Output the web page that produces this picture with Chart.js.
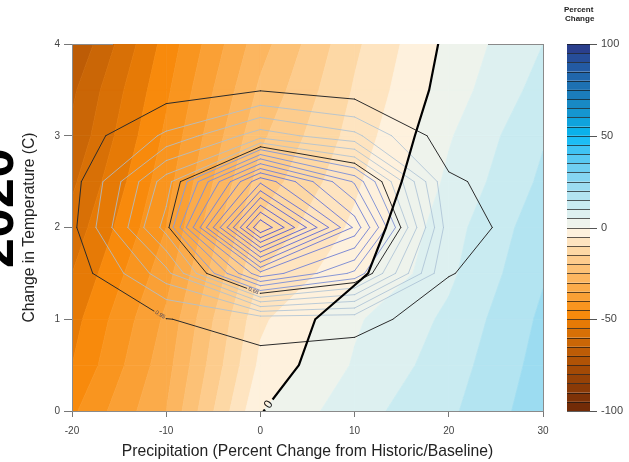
<!DOCTYPE html>
<html>
<head>
<meta charset="utf-8">
<script src="https://cdn.jsdelivr.net/npm/chart.js@4.4.0/dist/chart.umd.min.js"></script>
<style>
  html, body { margin: 0; padding: 0; background: #ffffff; }
  canvas { display: block; }
</style>
</head>
<body>
<canvas id="chart" width="629" height="462"></canvas>
<script>
// Grid of the response surface
const precipitation = [-20, -10, 0, 10, 20, 30];            // % change from baseline
const temperature = [0, 0.5, 1, 1.5, 2, 2.5, 3, 3.5, 4];     // degrees C

// Percent change of the response (one row per temperature step)
const percentChange = [
  [-46, -30,  -0.3,   8.0, 14.0, 23.0],
  [-50, -32,  -3.8,   5.5, 12.5, 22.0],
  [-52, -34,  -6.0,   4.3, 11.0, 21.0],
  [-55, -37, -10.0,  -1.5,  9.0, 19.5],
  [-58, -40, -14.0,  -4.0,  8.0, 18.0],
  [-61, -42, -18.0,  -6.0,  6.0, 16.0],
  [-64, -44, -21.0,  -8.0,  4.5, 14.5],
  [-66, -46, -24.0,  -9.5,  2.5, 12.0],
  [-70, -48, -27.0, -11.0,  1.4, 10.0]
];

// Relative likelihood of the climate projections (one row per temperature step)
const likelihood = [
  [0,     0,     0.003, 0,     0,     0],
  [0,     0.003, 0.020, 0,     0,     0],
  [0,     0.038, 0.067, 0.066, 0.002, 0],
  [0,     0.182, 0.550, 0.409, 0.043, 0],
  [0.025, 0.320, 1.000, 0.600, 0.070, 0.005],
  [0.014, 0.276, 0.700, 0.458, 0.050, 0],
  [0.001, 0.110, 0.226, 0.163, 0.003, 0],
  [0,     0.010, 0.036, 0.009, 0,     0],
  [0,     0.005, 0.008, 0,     0,     0]
];

// Likelihood contour levels
const innerLevels = [0.95, 0.90, 0.855, 0.805, 0.76, 0.71, 0.66, 0.61, 0.565, 0.515, 0.465, 0.42, 0.37];
const level68 = 0.34;
const outerLevels = [0.30, 0.25, 0.20, 0.15, 0.10];
const level95 = 0.04;
const zeroLevel = 0;

// Axis ticks
const precipTicks = [-20, -10, 0, 10, 20, 30];
const tempTicks = [0, 1, 2, 3, 4];
const colorbarTicks = [-100, -50, 0, 50, 100];

// Filled bands of percent change, -100 .. 100 in steps of 5
const bandEdges = [];
for (let v = -100; v <= 100; v += 5) bandEdges.push(v);
const bandColors = [
  '#722b07', '#7e3207', '#8a3a07', '#964207', '#a34a06', '#b05306', '#bd5c06', '#ca6606', '#d87006', '#e67a06',
  '#f88a0c', '#f9951f', '#faa035', '#fbab4a', '#fcb660', '#fcc176', '#fdcc8d', '#fdd8a5', '#fee4c0', '#fef1dd',
  '#eef3ec', '#ddf0f0', '#c9ebf1', '#b3e4f1', '#9cdcf1', '#85d5f1', '#6fcff2', '#58c9f3', '#3fc3f4', '#1cbdf5',
  '#0ab1ea', '#0fa3dd', '#1596d0', '#1889c4', '#1b7dba', '#1d71b2', '#2066ab', '#235aa3', '#264d99', '#2a3f8d'
];

const FONT = '"Liberation Sans", Arial, Helvetica, sans-serif';

// Corners of one grid cell, ordered around its perimeter
function cellCorners(grid, i, j) {
  return [
    { x: precipitation[i],     y: temperature[j],     v: grid[j][i] },
    { x: precipitation[i + 1], y: temperature[j],     v: grid[j][i + 1] },
    { x: precipitation[i + 1], y: temperature[j + 1], v: grid[j + 1][i + 1] },
    { x: precipitation[i],     y: temperature[j + 1], v: grid[j + 1][i] }
  ];
}

// Polygon of the part of a cell whose value lies between lo and hi
function bandPolygon(c, lo, hi) {
  const pts = [];
  for (let e = 0; e < 4; e++) {
    const a = c[e], b = c[(e + 1) % 4];
    if (a.v >= lo && a.v <= hi) pts.push(a);
    const cuts = [];
    for (const lv of [lo, hi]) {
      if ((a.v < lv && b.v > lv) || (a.v > lv && b.v < lv)) {
        const t = (lv - a.v) / (b.v - a.v);
        cuts.push({ t, x: a.x + t * (b.x - a.x), y: a.y + t * (b.y - a.y) });
      }
    }
    cuts.sort((p, q) => p.t - q.t).forEach(p => pts.push(p));
  }
  return pts;
}

// Marching squares: line segments of one level
function contourSegments(grid, level) {
  const segs = [];
  for (let j = 0; j < temperature.length - 1; j++) {
    for (let i = 0; i < precipitation.length - 1; i++) {
      const c = cellCorners(grid, i, j);
      const pts = [];
      for (let e = 0; e < 4; e++) {
        const a = c[e], b = c[(e + 1) % 4];
        if ((a.v < level) !== (b.v < level)) {
          const t = (level - a.v) / (b.v - a.v);
          pts[e] = { x: a.x + t * (b.x - a.x), y: a.y + t * (b.y - a.y) };
        }
      }
      const found = pts.filter(Boolean);
      if (found.length === 2) {
        segs.push(found);
      } else if (found.length === 4) {
        const centre = (c[0].v + c[1].v + c[2].v + c[3].v) / 4;
        if ((c[0].v < level) === (centre < level)) {
          segs.push([pts[0], pts[1]], [pts[2], pts[3]]);
        } else {
          segs.push([pts[3], pts[0]], [pts[1], pts[2]]);
        }
      }
    }
  }
  return segs;
}

// Contour labels, anchored where the line meets a given precipitation or temperature
const contourLabels = [
  { grid: 'percent', level: zeroLevel, text: '0', at: { y: 0.07 }, font: '12px ' + FONT, color: '#111111' },
  { grid: 'likelihood', level: level68, text: '0.68', at: { x: -0.74 }, font: '5.5px ' + FONT, color: '#3d3d5c' },
  { grid: 'likelihood', level: level95, text: '0.95', at: { x: -10.65 }, font: '5.5px ' + FONT, color: '#3d3d5c' }
];

function toPx(scales, p) {
  return { x: scales.x.getPixelForValue(p.x), y: scales.y.getPixelForValue(p.y) };
}

function labelPlacement(ctx, scales, segs, label) {
  let best = null;
  for (const [p, q] of segs) {
    const key = label.at.x !== undefined ? 'x' : 'y';
    const val = label.at[key];
    const lo = Math.min(p[key], q[key]), hi = Math.max(p[key], q[key]);
    if (val < lo || val > hi || hi === lo) continue;
    const t = (val - p[key]) / (q[key] - p[key]);
    const pt = { x: p.x + t * (q.x - p.x), y: p.y + t * (q.y - p.y) };
    const px = toPx(scales, pt);
    if (!best || px.y > best.cy) {
      const a = toPx(scales, p), b = toPx(scales, q);
      let ang = Math.atan2(b.y - a.y, b.x - a.x);
      if (ang > Math.PI / 2) ang -= Math.PI;
      if (ang < -Math.PI / 2) ang += Math.PI;
      best = { cx: px.x, cy: px.y, ang };
    }
  }
  if (!best) return null;
  ctx.save();
  ctx.font = label.font;
  const w = ctx.measureText(label.text).width;
  ctx.restore();
  const size = parseFloat(label.font);
  best.w = w + size * 0.5;
  best.h = size * 1.1;
  return best;
}

function strokeSegments(ctx, scales, segs, color, width) {
  ctx.strokeStyle = color;
  ctx.lineWidth = width;
  ctx.lineCap = 'round';
  ctx.lineJoin = 'round';
  ctx.beginPath();
  for (const [p, q] of segs) {
    const a = toPx(scales, p), b = toPx(scales, q);
    ctx.moveTo(a.x, a.y);
    ctx.lineTo(b.x, b.y);
  }
  ctx.stroke();
}

function clipAround(ctx, area, gap) {
  ctx.beginPath();
  ctx.rect(area.left, area.top, area.width, area.height);
  if (gap) {
    const cos = Math.cos(gap.ang), sin = Math.sin(gap.ang);
    const pts = [[-gap.w / 2, -gap.h / 2], [gap.w / 2, -gap.h / 2], [gap.w / 2, gap.h / 2], [-gap.w / 2, gap.h / 2]]
      .map(([u, v]) => [gap.cx + u * cos - v * sin, gap.cy + u * sin + v * cos]);
    ctx.moveTo(pts[0][0], pts[0][1]);
    for (let k = 1; k < 4; k++) ctx.lineTo(pts[k][0], pts[k][1]);
    ctx.closePath();
  }
  ctx.clip('evenodd');
}

function mix(a, b, t) {
  return 'rgb(' + a.map((v, k) => Math.round(v + (b[k] - v) * t)).join(',') + ')';
}

const surfacePlugin = {
  id: 'surface',
  beforeDatasetsDraw(chart) {
    const { ctx, chartArea: area, scales } = chart;
    ctx.save();
    ctx.beginPath();
    ctx.rect(area.left, area.top, area.width, area.height);
    ctx.clip();

    // filled percent-change bands
    for (let j = 0; j < temperature.length - 1; j++) {
      for (let i = 0; i < precipitation.length - 1; i++) {
        const c = cellCorners(percentChange, i, j);
        const vals = c.map(p => p.v);
        const vmin = Math.min(...vals), vmax = Math.max(...vals);
        for (let k = 0; k < bandColors.length; k++) {
          const lo = bandEdges[k], hi = bandEdges[k + 1];
          if (vmax < lo || vmin > hi) continue;
          const poly = bandPolygon(c, lo, hi);
          if (poly.length < 3) continue;
          ctx.beginPath();
          poly.forEach((p, n) => {
            const q = toPx(scales, p);
            if (n) ctx.lineTo(q.x, q.y); else ctx.moveTo(q.x, q.y);
          });
          ctx.closePath();
          ctx.fillStyle = bandColors[k];
          ctx.fill();
          ctx.strokeStyle = bandColors[k];
          ctx.lineWidth = 0.7;
          ctx.stroke();
        }
      }
    }
    ctx.restore();

    // likelihood contours
    contourLabels.forEach(l => {
      const grid = l.grid === 'percent' ? percentChange : likelihood;
      l.segs = contourSegments(grid, l.level);
      l.place = labelPlacement(ctx, scales, l.segs, l);
    });
    const labelFor = (grid, level) => contourLabels.find(l => l.grid === grid && l.level === level);

    ctx.save();
    clipAround(ctx, area, null);
    outerLevels.forEach(lv => {
      strokeSegments(ctx, scales, contourSegments(likelihood, lv), 'rgba(170,192,212,0.8)', 1);
    });
    innerLevels.forEach((lv, k) => {
      const t = k / (innerLevels.length - 1);
      strokeSegments(ctx, scales, contourSegments(likelihood, lv), mix([92, 92, 210], [140, 156, 214], t), 1);
    });
    ctx.restore();

    [level68, level95].forEach(lv => {
      const l = labelFor('likelihood', lv);
      ctx.save();
      clipAround(ctx, area, l.place);
      strokeSegments(ctx, scales, l.segs, '#2b2b2b', 1);
      ctx.restore();
    });

    const z = labelFor('percent', zeroLevel);
    ctx.save();
    clipAround(ctx, area, z.place);
    strokeSegments(ctx, scales, z.segs, '#000000', 2.2);
    ctx.restore();

    // labels on the lines
    contourLabels.forEach(l => {
      if (!l.place) return;
      ctx.save();
      ctx.translate(l.place.cx, l.place.cy);
      ctx.rotate(l.place.ang);
      ctx.font = l.font;
      ctx.fillStyle = l.color;
      ctx.textAlign = 'center';
      ctx.textBaseline = 'middle';
      ctx.fillText(l.text, 0, 0);
      ctx.restore();
    });
  },
  afterDatasetsDraw(chart) {
    const { ctx, chartArea: area, scales } = chart;
    // frame
    ctx.save();
    ctx.strokeStyle = '#8a8a8a';
    ctx.lineWidth = 1;
    ctx.beginPath();
    ctx.moveTo(area.left + 0.5, area.top);
    ctx.lineTo(area.left + 0.5, area.bottom + 0.5);
    ctx.lineTo(area.right + 0.5, area.bottom + 0.5);
    ctx.lineTo(area.right + 0.5, area.top);
    ctx.moveTo(area.left, area.top + 0.5);
    ctx.lineTo(area.left + 41, area.top + 0.5);
    ctx.moveTo(area.right - 55, area.top + 0.5);
    ctx.lineTo(area.right + 0.5, area.top + 0.5);
    ctx.stroke();
    ctx.restore();

    // colour bar
    const cb = scales.cb;
    const left = area.right + 24, width = 23;
    ctx.save();
    for (let k = 0; k < bandColors.length; k++) {
      const y1 = cb.getPixelForValue(bandEdges[k]);
      const y2 = cb.getPixelForValue(bandEdges[k + 1]);
      ctx.fillStyle = bandColors[k];
      ctx.fillRect(left, y2, width, y1 - y2);
    }
    ctx.strokeStyle = 'rgba(20,20,20,0.85)';
    ctx.lineWidth = 0.8;
    ctx.beginPath();
    bandEdges.forEach(v => {
      const y = Math.round(cb.getPixelForValue(v)) + 0.5;
      ctx.moveTo(left, y);
      ctx.lineTo(left + width, y);
    });
    ctx.stroke();
    ctx.strokeStyle = '#555555';
    ctx.lineWidth = 1;
    ctx.beginPath();
    colorbarTicks.forEach(v => {
      const y = Math.round(cb.getPixelForValue(v)) + 0.5;
      ctx.moveTo(left + width, y);
      ctx.lineTo(left + width + 7, y);
    });
    ctx.stroke();

    ctx.fillStyle = '#222222';
    ctx.font = 'bold 8px ' + FONT;
    ctx.textAlign = 'left';
    ctx.textBaseline = 'middle';
    ctx.fillText('Percent', left - 3, 10);
    ctx.fillText('Change', left - 2, 19);

    // large year caption running up the left margin
    ctx.translate(13, 208);
    ctx.rotate(-Math.PI / 2);
    ctx.font = 'bold 54px ' + FONT;
    ctx.fillStyle = '#000000';
    ctx.textAlign = 'center';
    ctx.textBaseline = 'alphabetic';
    ctx.fillText('2020', 0, 0);
    ctx.restore();
  }
};

Chart.defaults.font.family = FONT;

// fixed axis boxes so the plot area sits at 72..543 x 44..411
const fixBox = size => s => {
  if (s.isHorizontal()) s.height = size; else s.width = size;
  s.paddingTop = 0; s.paddingBottom = 0; s.paddingLeft = 0; s.paddingRight = 0;
};

new Chart(document.getElementById('chart'), {
  type: 'scatter',
  data: { datasets: [] },
  options: {
    responsive: false,
    animation: false,
    devicePixelRatio: 1,
    layout: { padding: { top: 44, left: 0, right: 0, bottom: 0 } },
    plugins: { legend: { display: false }, tooltip: { enabled: false } },
    scales: {
      x: {
        type: 'linear',
        position: 'bottom',
        min: precipTicks[0],
        max: precipTicks[precipTicks.length - 1],
        afterBuildTicks: s => { s.ticks = precipTicks.map(v => ({ value: v })); },
        afterFit: fixBox(51),
        grid: { display: true, drawOnChartArea: false, drawTicks: true, tickLength: 6, tickColor: '#777777' },
        border: { display: false },
        ticks: { color: '#444444', font: { size: 10 }, padding: 8, maxRotation: 0 },
        title: {
          display: true,
          text: 'Precipitation (Percent Change from Historic/Baseline)',
          color: '#222222',
          font: { size: 15.7 },
          padding: { top: 0, bottom: 1 }
        }
      },
      y: {
        type: 'linear',
        position: 'left',
        min: tempTicks[0],
        max: tempTicks[tempTicks.length - 1],
        afterBuildTicks: s => { s.ticks = tempTicks.map(v => ({ value: v })); },
        afterFit: fixBox(72),
        grid: { display: true, drawOnChartArea: false, drawTicks: true, tickLength: 8, tickColor: '#777777' },
        border: { display: false },
        ticks: { color: '#444444', font: { size: 10 }, padding: 4 },
        title: {
          display: true,
          text: 'Change in Temperature (C)',
          color: '#222222',
          font: { size: 15.7 },
          padding: { top: 20.5, bottom: 0 }
        }
      },
      cb: {
        type: 'linear',
        axis: 'y',
        position: 'right',
        min: colorbarTicks[0],
        max: colorbarTicks[colorbarTicks.length - 1],
        afterBuildTicks: s => { s.ticks = colorbarTicks.map(v => ({ value: v })); },
        afterFit: fixBox(86),
        grid: { display: true, drawOnChartArea: false, drawTicks: true, tickLength: 54, tickColor: 'rgba(0,0,0,0)' },
        border: { display: false },
        ticks: { color: '#444444', font: { size: 11 }, padding: 4 }
      }
    }
  },
  plugins: [surfacePlugin]
});
</script>
</body>
</html>
